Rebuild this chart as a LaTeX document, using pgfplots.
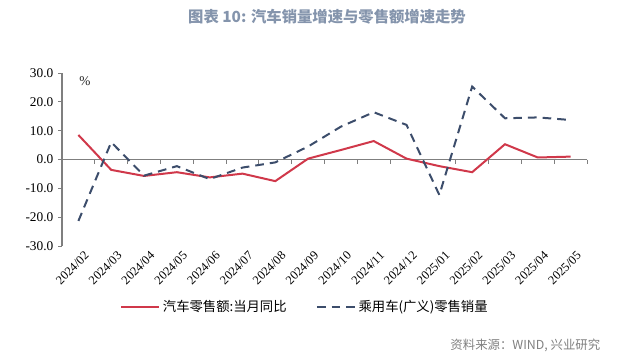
\documentclass[border=0pt]{standalone}
\usepackage{pgfplots}
\pgfplotsset{compat=1.18}
\usepackage{fontspec}
\setmainfont{Liberation Serif}
\newfontfamily\cjk{Noto Sans CJK SC}
\definecolor{redline}{HTML}{D0384A}
\definecolor{blueline}{HTML}{3C4D6B}
\definecolor{titlecol}{HTML}{8494AC}
\definecolor{axisgray}{HTML}{7F7F7F}
\begin{document}
\begin{tikzpicture}
\begin{axis}[
  at={(46.5pt,-184.5pt)}, anchor=south west,
  width=393.75pt, height=129.75pt, scale only axis,
  xmin=-0.5, xmax=15.5, ymin=-30, ymax=30,
  axis x line*=bottom, axis y line*=left,
  axis line style={axisgray, line width=0.8pt, -},
  x axis line style={draw=none},
  xtick={0,...,15},
  xticklabels={2024/02,2024/03,2024/04,2024/05,2024/06,2024/07,2024/08,2024/09,2024/10,2024/11,2024/12,2025/01,2025/02,2025/03,2025/04,2025/05},
  xtick style={draw=none},
  xticklabel style={rotate=45, anchor=east, inner sep=0pt, xshift=0.5pt, yshift=-8.5pt, font=\fontsize{9.3}{11}\selectfont},
  ytick={-30,-20,-10,0,10,20,30},
  yticklabel style={font=\fontsize{10}{12}\selectfont, /pgf/number format/.cd, fixed, fixed zerofill, precision=1, assume math mode=true},
  ytick style={axisgray, line width=0.6pt},
  ytick align=outside, major tick length=3pt,
  clip=false,
  legend style={at={(0.1105,-0.3526)}, anchor=west, draw=none, fill=none,
    inner xsep=0pt, inner ysep=0pt,
    legend columns=2, font=\cjk\fontsize{10}{12}\selectfont,
    /tikz/every even column/.append style={column sep=20pt}},
  legend cell align=left,
  legend image code/.code={\draw[#1] (0pt,0pt) -- (28.5pt,0pt);},
]
\draw[axisgray, line width=0.8pt] (axis cs:-0.5,0) -- (axis cs:15.5,0);
\pgfplotsinvokeforeach{0,...,16}{
  \draw[axisgray, line width=0.6pt] (axis cs:#1-0.5,0) -- ([yshift=-3pt]axis cs:#1-0.5,0);
}
\node[font=\fontsize{10}{12}\selectfont, text=black!85] at (axis cs:0.2,27.3) {\%};
\addplot[redline, line width=1.5pt] coordinates {
(0,8.5) (1,-3.6) (2,-5.7) (3,-4.4) (4,-6.2) (5,-4.9) (6,-7.5) (7,0.3) (8,3.3) (9,6.4) (10,0.3) (11,-2.3) (12,-4.4) (13,5.3) (14,0.7) (15,1.0)
};
\addlegendentry{汽车零售额:当月同比}
\addplot[blueline, line width=1.5pt, dash pattern=on 6.5pt off 4.5pt] coordinates {
(0,-21.3) (1,6.0) (2,-5.6) (3,-2.3) (4,-6.8) (5,-2.8) (6,-1.0) (7,4.5) (8,11.4) (9,16.4) (10,12.0) (11,-12.3) (12,25.3) (13,14.3) (14,14.6) (15,13.7)
};
\addlegendentry{乘用车(广义)零售销量}
\end{axis}
\node[font=\cjk\bfseries\fontsize{11.5}{13}\selectfont, text=titlecol] at (245.25pt,-12.75pt) {图表 10: 汽车销量增速与零售额增速走势};
\node[font=\cjk\fontsize{9.3}{11}\selectfont, text=black!50, anchor=east] at (453.75pt,-258.75pt) {资料来源：WIND, 兴业研究};
\pgfresetboundingbox
\path (0,0) rectangle (480pt,-266.25pt);
\end{tikzpicture}
\end{document}
